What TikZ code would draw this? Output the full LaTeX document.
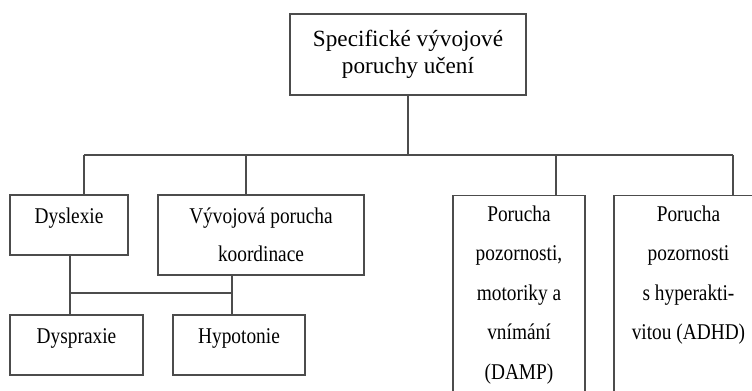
\documentclass[tikz,border=0pt]{standalone}
\usepackage{fontspec}
\setmainfont{Liberation Serif}
\newfontfamily\boxfont[FakeStretch=0.86]{Liberation Serif}
\usepackage{tikz}

\begin{document}
\begin{tikzpicture}[x=0.025cm, y=-0.025cm,
        box/.style={draw=black!70, line width=0.8pt, align=center, inner sep=2pt,
            font=\boxfont\fontsize{16}{26.7}\selectfont},
        onebox/.style={box, text height=10pt, text depth=12pt},
        tallbox/.style={box, anchor=north, inner ysep=7pt, text depth=3cm,
            font=\boxfont\fontsize{16}{28.2}\selectfont},
        link/.style={draw=black!70, line width=0.8pt}]
            \useasboundingbox (0,0) rectangle (752,390);
            \clip (0,0) rectangle (752,390);
            % top
            \draw
                (408,54.5) node[box, minimum width=5.9cm, minimum height=2.025cm,
                    font=\fontsize{16.5}{19}\selectfont] (top) {Specifické vývojové\\poruchy učení};
            % first row
            \draw
                (69,225) node[onebox, minimum width=2.95cm, minimum height=1.5cm] (dys) {Dyslexie};
            \draw
                (261,235) node[box, minimum width=5.15cm, minimum height=2cm] (vyv) {Vývojová porucha\\koordinace};
            \draw
                (519,195) node[tallbox, minimum width=3.3cm] (damp) {Porucha\\pozornosti,\\motoriky a\\vnímání\\(DAMP)};
            \draw
                (688.5,195) node[tallbox, minimum width=3.725cm] (adhd) {Porucha\\pozornosti\\s hyperakti-\\vitou (ADHD)};
            % second row
            \draw
                (76.5,345) node[onebox, minimum width=3.325cm, minimum height=1.5cm] (dysp) {Dyspraxie};
            \draw
                (239,345) node[onebox, minimum width=3.3cm, minimum height=1.5cm] (hyp) {Hypotonie};
            % connectors
            \coordinate (b1) at (84,155);
            \coordinate (b2) at (246,155);
            \coordinate (b3) at (556,155);
            \coordinate (b4) at (733,155);
            \coordinate (k1) at (70,293);
            \coordinate (k2) at (232,293);
            \draw[link] (top.south) -- (top.south |- b1);
            \draw[link] (b1) -- (b4);
            \draw[link] (b1) -- (b1 |- dys.north);
            \draw[link] (b2) -- (b2 |- vyv.north);
            \draw[link] (b3) -- (b3 |- damp.north);
            \draw[link] (b4) -- (b4 |- adhd.north);
            \draw[link] (dys.south -| k1) -- (dysp.north -| k1);
            \draw[link] (k1) -- (k2);
            \draw[link] (vyv.south -| k2) -- (hyp.north -| k2);
\end{tikzpicture}
\end{document}
